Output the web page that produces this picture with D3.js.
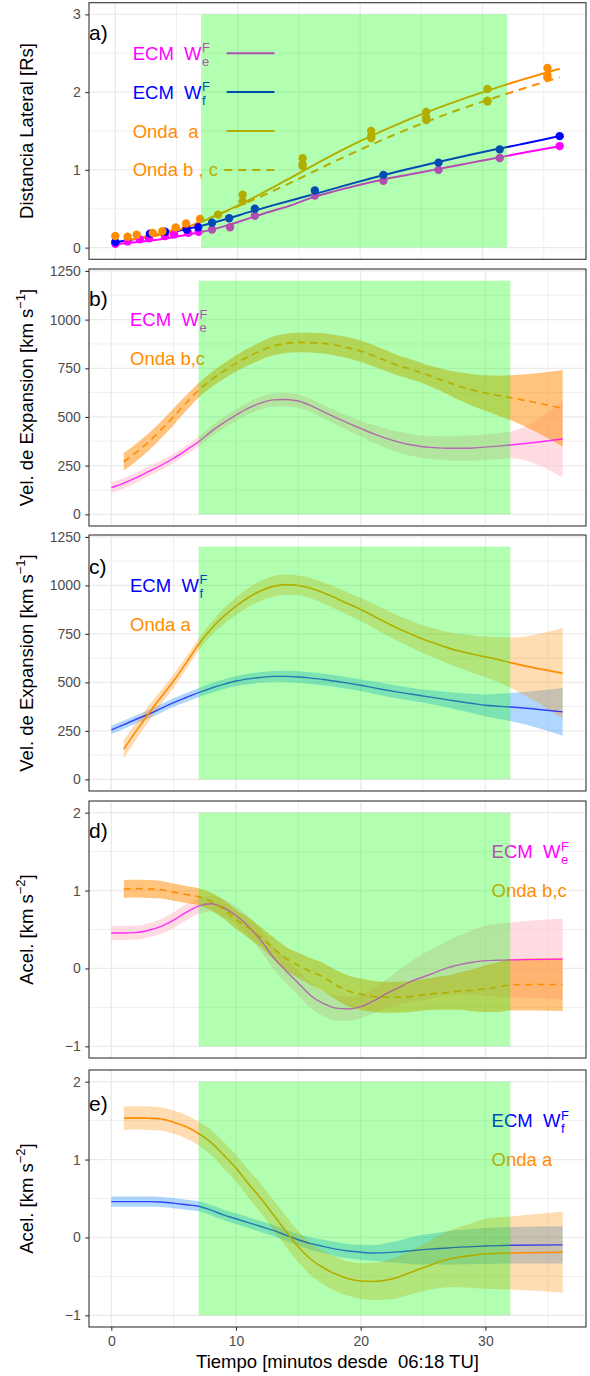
<!DOCTYPE html>
<html><head><meta charset="utf-8">
<script src="https://cdn.jsdelivr.net/npm/d3@7"></script>
<style>
body{margin:0;background:#fff}
text{font-family:"Liberation Sans",Arial,Helvetica,sans-serif}
</style>
</head><body>
<svg id="chart" width="590" height="1376"></svg>
<script>
// ---------------- DATA ----------------
const xTicksMajor = [0, 10, 20, 30];
const xTicksMinor = [5, 15, 25, 35];
const distTicks = [0, 1, 2, 3];
const distMinor = [0.5, 1.5, 2.5];
const velTicks = [0, 250, 500, 750, 1000, 1250];
const velMinor = [125, 375, 625, 875, 1125];
const accTicks = [-1, 0, 1, 2];
const accMinor = [-0.5, 0.5, 1.5];
const shadeT = [7, 32];          // green interval (minutes)
const shadeDist = [0, 3];
const shadeVel = [0, 1200];
const shadeAcc = [-1, 2];

// panel a: measured lateral distance [Rs]
const ecmWeDistPts = [[0,0.05],[1,0.08],[2,0.106],[2.75,0.12],[4.06,0.148],[4.8,0.17],[5.96,0.19],[6.8,0.204],[7.9,0.234],[9.37,0.263],[11.4,0.41],[16.3,0.67],[21.9,0.86],[26.4,1.0],[31.4,1.153],[36.3,1.306]];
const ecmWfDistPts = [[0,0.072],[2.83,0.18],[4.06,0.204],[5.83,0.234],[6.78,0.263],[7.9,0.32],[9.3,0.378],[11.4,0.50],[16.3,0.735],[21.9,0.936],[26.4,1.093],[31.4,1.264],[36.3,1.434]];
const ondaDistPts = [[0,0.15],[1,0.14],[1.75,0.165],[3.05,0.19],[3.84,0.21],[4.93,0.26],[5.78,0.31],[6.92,0.37],[8.4,0.425],[10.4,0.68],[10.4,0.595],[15.3,1.15],[15.3,1.07],[15.3,1.05],[20.9,1.50],[20.9,1.43],[20.9,1.41],[25.4,1.745],[25.4,1.67],[25.4,1.64],[30.4,2.04],[30.4,1.89],[30.4,1.88],[35.3,2.31],[35.3,2.22],[35.3,2.19]];
// panel a: fitted curves
const ecmWeDistFit = [[0,0.045],[2,0.075],[4,0.115],[6,0.17],[7,0.2],[9,0.28],[11,0.38],[13,0.48],[14.3,0.54],[16,0.64],[18,0.73],[20,0.81],[22,0.88],[24,0.94],[26,1.0],[28,1.06],[30,1.12],[32,1.18],[34,1.24],[36.3,1.305]];
const ecmWfDistFit = [[0,0.07],[2,0.12],[4,0.18],[6,0.245],[7,0.28],[9,0.365],[11,0.46],[13,0.55],[15,0.635],[17,0.72],[19,0.81],[21,0.895],[23,0.975],[25,1.05],[27,1.125],[29,1.195],[31,1.262],[33,1.325],[35,1.39],[36.3,1.435]];
const ondaADistFit = [[1,0.10],[3,0.14],[5,0.22],[7,0.33],[10,0.54],[14,0.87],[17,1.13],[20,1.37],[24,1.65],[28,1.89],[32,2.10],[36.3,2.30]];
const ondaBCDistFit = [[1,0.10],[3,0.16],[5,0.24],[7,0.34],[10,0.53],[14,0.81],[17,1.04],[20,1.26],[24,1.53],[28,1.77],[32,1.98],[36.3,2.19]];

// velocities [km/s]: [t, value, half-width of band]
const weVel = [[0,137,28],[1,160,27],[2,188,26],[3,220,25],[4,252,24],[5,288,23],[6,330,24],[7,373,25],[8,425,27],[9,470,28],[10,510,30],[11,545,31],[12,572,33],[13,588,34],[14,590,35],[15,582,35],[16,558,34],[17,527,34],[18,497,35],[19,468,37],[20,441,40],[21,414,45],[22,391,50],[23,372,53],[24,357,56],[25,347,58],[26,342,60],[27,339,62],[28,339,64],[29,341,65],[30,345,66],[31,350,67],[32,356,68],[36.2,387,197]];
const bcVel = [[1,270,45],[2,318,45],[3,372,44],[4,435,43],[5,502,43],[6,572,40],[7,637,38],[8,690,39],[9,735,40],[10,775,42],[11,810,44],[12,840,46],[13,865,48],[14,878,49],[15,883,50],[16,882,51],[17,878,52],[18,868,53],[19,855,54],[20,838,55],[21,815,55],[22,790,54],[23,765,52],[24,745,51],[25,724,51],[26,700,55],[27,678,62],[28,656,72],[29,638,82],[30,623,91],[31,610,102],[32,599,115],[36.2,544,197]];
const wfVel = [[0,255,21],[1,282,21],[2,310,21],[3,336,22],[4,366,22],[5,396,22],[6,422,23],[7,447,24],[8,470,25],[9,490,25],[10,507,26],[11,518,27],[12,526,27],[13,531,28],[14,531,29],[15,528,30],[16,522,30],[17,515,30],[18,506,30],[19,496,30],[20,485,30],[21,473,31],[22,461,32],[23,450,33],[24,440,33],[25,430,34],[26,420,37],[27,410,40],[28,400,45],[29,391,50],[30,382,56],[31,377,64],[32,373,72],[36.2,348,123]];
const waVel = [[1,156,47],[2,250,44],[3,340,40],[4,425,36],[5,508,34],[6,600,32],[7,695,30],[8,775,34],[9,840,40],[10,893,45],[11,938,49],[12,972,52],[13,995,54],[14,1004,52],[15,1000,51],[16,985,53],[17,962,55],[18,935,57],[19,905,59],[20,876,60],[21,843,62],[22,810,64],[23,778,66],[24,750,69],[25,722,72],[26,700,76],[27,678,82],[28,660,89],[29,645,97],[30,632,104],[31,618,116],[32,602,129],[36.2,547,233]];

// accelerations [km/s^2]: [t, value, half-width of band]
const weAcc = [[0,0.456,0.09],[1,0.455,0.09],[2,0.46,0.09],[3,0.49,0.09],[4,0.54,0.095],[5,0.62,0.1],[6,0.72,0.1],[7,0.80,0.1],[8,0.83,0.1],[9,0.78,0.11],[10,0.68,0.12],[11,0.54,0.13],[12,0.36,0.14],[13,0.14,0.15],[14,-0.03,0.16],[15,-0.19,0.16],[16,-0.35,0.16],[17,-0.45,0.16],[18,-0.51,0.16],[19,-0.52,0.155],[20,-0.49,0.15],[21,-0.42,0.16],[22,-0.33,0.18],[23,-0.25,0.22],[24,-0.17,0.26],[25,-0.11,0.30],[26,-0.05,0.32],[27,0.01,0.35],[28,0.05,0.38],[29,0.08,0.42],[30,0.10,0.45],[31,0.105,0.47],[32,0.11,0.48],[36.2,0.12,0.52]];
const bcAcc = [[1,1.02,0.115],[2,1.025,0.115],[3,1.02,0.115],[4,1.01,0.113],[5,0.98,0.11],[6,0.95,0.11],[7,0.92,0.11],[8,0.86,0.115],[9,0.76,0.12],[10,0.63,0.125],[11,0.52,0.13],[12,0.40,0.13],[13,0.26,0.14],[14,0.13,0.15],[15,0.04,0.16],[16,-0.04,0.17],[17,-0.11,0.18],[18,-0.21,0.19],[19,-0.29,0.2],[20,-0.33,0.2],[21,-0.36,0.2],[22,-0.37,0.2],[23,-0.37,0.2],[24,-0.36,0.2],[25,-0.34,0.2],[26,-0.32,0.21],[27,-0.31,0.22],[28,-0.29,0.24],[29,-0.28,0.27],[30,-0.26,0.3],[31,-0.24,0.32],[32,-0.21,0.33],[36.2,-0.205,0.34]];
const waAcc = [[1,1.53,0.15],[2,1.535,0.15],[3,1.53,0.15],[4,1.52,0.15],[5,1.48,0.15],[6,1.42,0.15],[7,1.335,0.15],[8,1.22,0.16],[9,1.06,0.17],[10,0.89,0.17],[11,0.69,0.18],[12,0.50,0.19],[13,0.29,0.19],[14,0.08,0.2],[15,-0.12,0.2],[16,-0.28,0.21],[17,-0.39,0.21],[18,-0.47,0.22],[19,-0.53,0.22],[20,-0.56,0.23],[21,-0.565,0.24],[22,-0.55,0.25],[23,-0.51,0.27],[24,-0.45,0.28],[25,-0.39,0.30],[26,-0.33,0.33],[27,-0.28,0.36],[28,-0.25,0.39],[29,-0.23,0.42],[30,-0.21,0.45],[31,-0.205,0.46],[32,-0.20,0.47],[36.2,-0.19,0.52]];
const wfAcc = [[0,0.46,0.065],[1,0.46,0.065],[2,0.46,0.065],[3,0.46,0.065],[4,0.455,0.065],[5,0.44,0.065],[6,0.42,0.065],[7,0.40,0.065],[8,0.35,0.066],[9,0.29,0.067],[10,0.24,0.068],[11,0.19,0.07],[12,0.14,0.07],[13,0.09,0.07],[14,0.03,0.07],[15,-0.03,0.075],[16,-0.08,0.08],[17,-0.115,0.085],[18,-0.15,0.09],[19,-0.175,0.092],[20,-0.19,0.095],[21,-0.2,0.1],[22,-0.195,0.12],[23,-0.185,0.14],[24,-0.17,0.17],[25,-0.157,0.19],[26,-0.145,0.2],[27,-0.135,0.215],[28,-0.125,0.22],[29,-0.118,0.225],[30,-0.11,0.23],[31,-0.105,0.232],[32,-0.10,0.235],[36.2,-0.095,0.24]];

// ---------------- STYLE ----------------
const MAG = "#FF00FF", BLU = "#0000FF", ORA = "#FF8C00";
const L = 89, R = 586;
const FONT_LBL = 18.5;

const svg = d3.select("#chart");
svg.append("rect").attr("width",590).attr("height",1376).attr("fill","#fff");

function makePanel(top, bottom, xd, yd, yMaj, yMin, fmt){
  const x = d3.scaleLinear().domain(xd).range([L, R]);
  const y = d3.scaleLinear().domain(yd).range([bottom, top]);
  const g = svg.append("g");
  const grid = g.append("g");
  xTicksMinor.forEach(t => grid.append("line").attr("x1",x(t)).attr("x2",x(t)).attr("y1",top).attr("y2",bottom).attr("stroke","#EBEBEB").attr("stroke-width",0.8));
  yMin.forEach(t => grid.append("line").attr("y1",y(t)).attr("y2",y(t)).attr("x1",L).attr("x2",R).attr("stroke","#EBEBEB").attr("stroke-width",0.8));
  xTicksMajor.forEach(t => grid.append("line").attr("x1",x(t)).attr("x2",x(t)).attr("y1",top).attr("y2",bottom).attr("stroke","#EBEBEB").attr("stroke-width",1.3));
  yMaj.forEach(t => grid.append("line").attr("y1",y(t)).attr("y2",y(t)).attr("x1",L).attr("x2",R).attr("stroke","#EBEBEB").attr("stroke-width",1.3));
  // y axis
  const ax = d3.axisLeft(y).tickValues(yMaj).tickSize(3.7).tickPadding(4.5).tickFormat(fmt);
  const axg = svg.append("g").attr("transform",`translate(${L},0)`).call(ax);
  axg.select(".domain").remove();
  axg.selectAll(".tick line").attr("stroke","#333").attr("stroke-width",1.1);
  axg.selectAll(".tick text").attr("fill","#4D4D4D").style("font-size","14px").style("font-family",'"Liberation Sans",Arial,sans-serif');
  return {x, y, g, top, bottom};
}

function band(p, data, color, op){
  const area = d3.area().x(d=>p.x(d[0])).y0(d=>p.y(d[1]-d[2])).y1(d=>p.y(d[1]+d[2])).curve(d3.curveMonotoneX);
  p.g.append("path").attr("d", area(data)).attr("fill", color).attr("fill-opacity", op);
}
function line(p, data, color, w, dash, op){
  const ln = d3.line().x(d=>p.x(d[0])).y(d=>p.y(d[1])).curve(d3.curveMonotoneX);
  p.g.append("path").attr("d", ln(data)).attr("fill","none").attr("stroke",color).attr("stroke-width",w)
    .attr("stroke-dasharray", dash || null).attr("stroke-opacity", op || 1);
}
function label(p, tx, ty, main, sup, sub, color){
  const X = p.x(tx), Y = p.y(ty) + 6.5;
  const t = p.g.append("text").attr("x",X).attr("y",Y).attr("fill",color).style("font-size",FONT_LBL+"px").text(main);
  const w = t.node().getComputedTextLength();
  if (sup) p.g.append("text").attr("x",X+w+0.5).attr("y",Y-7.5).attr("fill",color).style("font-size","13px").text(sup);
  if (sub) p.g.append("text").attr("x",X+w+0.5).attr("y",Y+6).attr("fill",color).style("font-size","13px").text(sub);
}
function panelTag(p, ty, s){
  p.g.append("text").attr("x",L).attr("y",p.y(ty)+6.3).attr("fill","#000").style("font-size","21px").text(s);
}
function shade(p, yr){
  p.g.append("rect").attr("x",p.x(shadeT[0])).attr("width",p.x(shadeT[1])-p.x(shadeT[0]))
    .attr("y",p.y(yr[1])).attr("height",p.y(yr[0])-p.y(yr[1])).attr("fill","#00FF00").attr("fill-opacity",0.3);
}
function border(p){
  svg.append("rect").attr("x",L).attr("y",p.top).attr("width",R-L).attr("height",p.bottom-p.top)
    .attr("fill","none").attr("stroke","#333").attr("stroke-width",1.1);
}
function yTitle(cy, main, sup, tail){
  const t = svg.append("text").attr("transform",`translate(33.3,${cy}) rotate(-90)`).attr("text-anchor","middle")
    .attr("fill","#000").style("font-size",FONT_LBL+"px");
  t.append("tspan").text(main);
  if (sup){
    t.append("tspan").attr("dy",-8).style("font-size","13px").text(sup);
    t.append("tspan").attr("dy",8).text(tail);
  }
}

const nb = "\u00A0";
const fmtInt = d3.format("d");
const fmtAcc = d => d < 0 ? "\u2212" + Math.abs(d) : String(d);

// ---------------- PANEL A ----------------
const pa = makePanel(2.7, 259.3, [-2.15, 38.45], [-0.15, 3.15], distTicks, distMinor, fmtInt);
line(pa, ecmWeDistFit, MAG, 2);
line(pa, ecmWfDistFit, BLU, 2);
line(pa, ondaADistFit, ORA, 2);
line(pa, ondaBCDistFit, ORA, 2, "8,6");
ecmWeDistPts.forEach(d => pa.g.append("circle").attr("cx",pa.x(d[0])).attr("cy",pa.y(d[1])).attr("r",4.2).attr("fill",MAG));
ecmWfDistPts.forEach(d => pa.g.append("circle").attr("cx",pa.x(d[0])).attr("cy",pa.y(d[1])).attr("r",4.2).attr("fill",BLU));
ondaDistPts.forEach(d => pa.g.append("circle").attr("cx",pa.x(d[0])).attr("cy",pa.y(d[1])).attr("r",4.2).attr("fill",ORA));
const legA = [
  {y:2.5, main:"ECM"+nb+nb+"W", sup:"F", sub:"e", color:MAG, dash:null},
  {y:2.0, main:"ECM"+nb+nb+"W", sup:"F", sub:"f", color:BLU, dash:null},
  {y:1.5, main:"Onda"+nb+nb+"a", color:ORA, dash:null},
  {y:1.0, main:"Onda b , c", color:ORA, dash:"8,6"}
];
legA.forEach(d => {
  label(pa, 1.42, d.y, d.main, d.sup, d.sub, d.color);
  pa.g.append("line").attr("x1", d.dash ? pa.x(8.9) : pa.x(9.1)).attr("x2", pa.x(13.0)).attr("y1", pa.y(d.y)).attr("y2", pa.y(d.y))
    .attr("stroke", d.color).attr("stroke-width", 2).attr("stroke-dasharray", d.dash);
});
panelTag(pa, 2.75, "a)");
shade(pa, shadeDist);
border(pa);
yTitle(131, "Distancia Lateral [Rs]");

// ---------------- PANEL B ----------------
const xdV = [-1.79, 38.07];
const pb = makePanel(269, 526, xdV, [-60, 1260], velTicks, velMinor, fmtInt);
band(pb, weVel, "#FFC0CB", 0.55);
band(pb, bcVel, ORA, 0.5);
line(pb, weVel, MAG, 1.4, null, 0.8);
line(pb, bcVel, ORA, 1.6, "7,5");
label(pb, 1.5, 1000, "ECM"+nb+nb+"W", "F", "e", MAG);
label(pb, 1.5, 800, "Onda b,c", null, null, ORA);
panelTag(pb, 1100, "b)");
shade(pb, shadeVel);
border(pb);
yTitle(397.5, "Vel. de Expansion [km s", "\u22121", "]");

// ---------------- PANEL C ----------------
const pc = makePanel(535, 791, xdV, [-60, 1260], velTicks, velMinor, fmtInt);
band(pc, wfVel, "#1E90FF", 0.35);
band(pc, waVel, ORA, 0.3);
line(pc, wfVel, BLU, 1.4, null, 0.7);
line(pc, waVel, ORA, 1.6);
label(pc, 1.5, 1000, "ECM"+nb+nb+"W", "F", "f", BLU);
label(pc, 1.5, 800, "Onda a", null, null, ORA);
panelTag(pc, 1090, "c)");
shade(pc, shadeVel);
border(pc);
yTitle(663, "Vel. de Expansion [km s", "\u22121", "]");

// ---------------- PANEL D ----------------
const pd = makePanel(801, 1058, xdV, [-1.15, 2.15], accTicks, accMinor, fmtAcc);
band(pd, weAcc, "#FFC0CB", 0.55);
band(pd, bcAcc, ORA, 0.5);
line(pd, weAcc, MAG, 1.4, null, 0.8);
line(pd, bcAcc, ORA, 1.6, "7,5");
label(pd, 30.5, 1.5, "ECM"+nb+nb+"W", "F", "e", MAG);
label(pd, 30.5, 1.0, "Onda b,c", null, null, ORA);
panelTag(pd, 1.75, "d)");
shade(pd, shadeAcc);
border(pd);
yTitle(929.5, "Acel. [km s", "\u22122", "]");

// ---------------- PANEL E ----------------
const pe = makePanel(1070, 1327, xdV, [-1.15, 2.15], accTicks, accMinor, fmtAcc);
band(pe, wfAcc, "#1E90FF", 0.35);
band(pe, waAcc, ORA, 0.3);
line(pe, wfAcc, BLU, 1.4, null, 0.7);
line(pe, waAcc, ORA, 1.6);
label(pe, 30.5, 1.5, "ECM"+nb+nb+"W", "F", "f", BLU);
label(pe, 30.5, 1.0, "Onda a", null, null, ORA);
panelTag(pe, 1.70, "e)");
shade(pe, shadeAcc);
border(pe);
yTitle(1198.5, "Acel. [km s", "\u22122", "]");

// x axis on bottom panel
const xAx = d3.axisBottom(pe.x).tickValues(xTicksMajor).tickSize(3.7).tickPadding(5).tickFormat(fmtInt);
const xg = svg.append("g").attr("transform",`translate(0,${pe.bottom})`).call(xAx);
xg.select(".domain").remove();
xg.selectAll(".tick line").attr("stroke","#333").attr("stroke-width",1.1);
xg.selectAll(".tick text").attr("fill","#4D4D4D").style("font-size","14px").style("font-family",'"Liberation Sans",Arial,sans-serif');
svg.append("text").attr("x",(L+R)/2).attr("y",1368).attr("text-anchor","middle").attr("fill","#000")
  .style("font-size",FONT_LBL+"px").text("Tiempo [minutos desde"+nb+nb+"06:18 TU]");
</script>
</body></html>
